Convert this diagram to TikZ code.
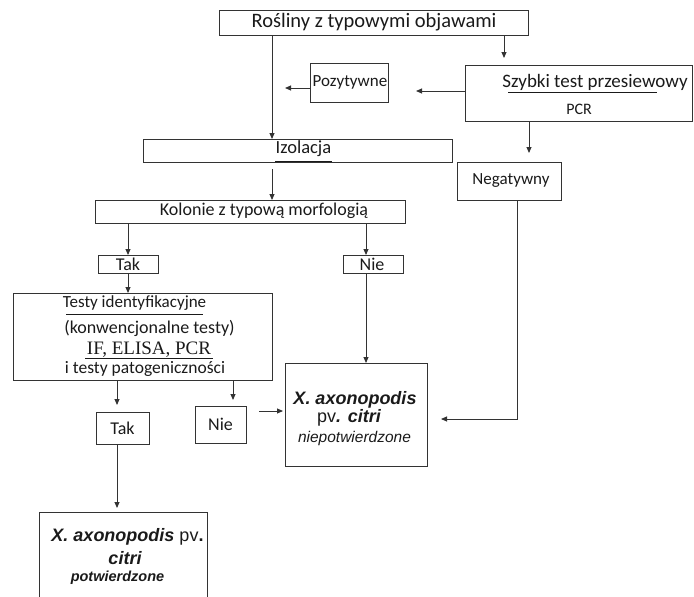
\documentclass[tikz,border=0pt]{standalone}
\usepackage{fontspec}
\setmainfont{Carlito}
\newfontfamily\tnr{Liberation Serif}
\newfontfamily\arial{Liberation Sans}
\usetikzlibrary{arrows.meta}
\definecolor{linec}{HTML}{333333}
\definecolor{txtc}{HTML}{1A1A1A}
\tikzset{
  boxnode/.style={draw=linec, line width=1pt, inner sep=0pt, anchor=north west, fill=none},
  lbl/.style={inner sep=0pt, text=txtc, anchor=center},
  arr/.style={draw=linec, line width=0.9pt, -{Triangle[length=6pt,width=5pt]}},
  ln/.style={draw=linec, line width=0.9pt},
  uline/.style={draw=txtc, line width=0.8pt}
}
\newcommand{\fs}[1]{\fontsize{#1}{#1}\selectfont}
\begin{document}
\begin{tikzpicture}[x=1pt,y=-1pt]
\useasboundingbox (0,0) rectangle (694,597);
% boxes
\node[boxnode, minimum width=309pt, minimum height=25pt] (top) at (219,10) {};
\node[boxnode, minimum width=227pt, minimum height=56pt] (szybki) at (465,65) {};
\node[boxnode, minimum width=78pt, minimum height=39pt] (poz) at (310,63) {};
\node[boxnode, minimum width=309pt, minimum height=23pt] (izol) at (143,139) {};
\node[boxnode, minimum width=104pt, minimum height=38pt] (neg) at (457,162) {};
\node[boxnode, minimum width=310pt, minimum height=23pt] (kol) at (95,200) {};
\node[boxnode, minimum width=60pt, minimum height=18pt] (tak1) at (98,255) {};
\node[boxnode, minimum width=60pt, minimum height=18pt] (nie1) at (343,255) {};
\node[boxnode, minimum width=259pt, minimum height=87pt] (testy) at (13,293) {};
\node[boxnode, minimum width=142pt, minimum height=103pt] (xnp) at (285,363) {};
\node[boxnode, minimum width=53pt, minimum height=32pt] (tak2) at (96,412) {};
\node[boxnode, minimum width=51pt, minimum height=37pt] (nie2) at (195,406) {};
\node[boxnode, minimum width=168pt, minimum height=110pt] (fin) at (39,512) {};
% texts
\node[lbl] (ttop) at (374,22) {\fs{20.5}Rośliny z typowymi objawami};
\node[lbl] (tszy) at (595,82) {\fs{19}Szybki test przesiewowy};
\node[lbl] (tpcr) at (579,109) {\fs{16}PCR};
\node[lbl] (tpoz) at (350,82) {\fs{17}Pozytywne};
\node[lbl] (tizo) at (303.5,149) {\fs{18.5}Izolacja};
\node[lbl] (tneg) at (511,181) {\fs{17}Negatywny};
\node[lbl] (tkol) at (264,211) {\fs{18}Kolonie z typową morfologią};
\node[lbl] (ttak1) at (128,264) {\fs{18}Tak};
\node[lbl] (tnie1) at (372,264) {\fs{18}Nie};
\node[lbl] (tt1) at (134.5,303) {\fs{17}Testy identyfikacyjne};
\node[lbl] (tt2) at (149.5,328) {\fs{18}(konwencjonalne testy)};
\node[lbl] (tt3) at (149,349.5) {\tnr\fs{19}IF, ELISA, PCR};
\node[lbl] (tt4) at (145,369) {\fs{17.5}i testy patogeniczności};
\node[lbl] (tx1) at (355,400) {\arial\fs{18}\bfseries\itshape X. axonopodis};
\node[lbl] (tx2) at (349,418) {\arial\fs{18}pv{\bfseries\itshape. citri}};
\node[lbl] (tx3) at (354.5,438) {\arial\fs{15.5}\itshape niepotwierdzone};
\node[lbl] (ttak2) at (122.5,428) {\fs{18}Tak};
\node[lbl] (tnie2) at (220.5,424.5) {\fs{18}Nie};
\node[lbl] (tf1) at (127.5,537) {\arial\fs{18}{\bfseries\itshape X. axonopodis} pv{\bfseries .}};
\node[lbl] (tf2) at (125,558) {\arial\fs{18}\bfseries\itshape citri};
\node[lbl] (tf3) at (117.5,578) {\arial\fs{14.5}\bfseries\itshape potwierdzone};
% underlines
\draw[uline] (508,92) -- (657,92);
\draw[uline] (275,161) -- (332,161);
\draw[uline] (66,314) -- (203,314);
\draw[uline] (85,358) -- (213,358);
% x guides
\coordinate (c1) at (272,0);
\coordinate (c2) at (504,0);
\coordinate (c3) at (529,0);
\coordinate (c4) at (128,0);
\coordinate (c5) at (366,0);
\coordinate (c6) at (117,0);
\coordinate (c7) at (233,0);
\coordinate (c8) at (517,419);
\coordinate (ys) at (0,91);
\coordinate (pa) at (285,88);
\coordinate (yn) at (0,411);
% connectors
\draw[arr] (top.south -| c1) -- (izol.north -| c1);
\draw[arr, shorten >=7pt] (top.south -| c2) -- (szybki.north -| c2);
\draw[arr, shorten >=27pt] (szybki.west |- ys) -- (poz.east |- ys);
\draw[arr] (poz.west |- pa) -- (pa);
\draw[arr, shorten >=9pt] (szybki.south -| c3) -- (neg.north -| c3);
\draw[arr, shorten <=6pt] (izol.south -| c1) -- (kol.north -| c1);
\draw[arr] (kol.south -| c4) -- (tak1.north -| c4);
\draw[arr] (kol.south -| c5) -- (nie1.north -| c5);
\draw[arr] (tak1.south -| c4) -- (testy.north -| c4);
\draw[arr] (nie1.south -| c5) -- (xnp.north -| c5);
\draw[arr, shorten >=7pt] (testy.south -| c6) -- (tak2.north -| c6);
\draw[arr, shorten >=6pt] (testy.south -| c7) -- (nie2.north -| c7);
\draw[arr, shorten <=12pt, shorten >=2pt] (nie2.east |- yn) -- (xnp.west |- yn);
\draw[arr, shorten >=13pt] (neg.south -| c8) -- (c8) -- (xnp.east |- c8);
\draw[arr, shorten >=4pt] (tak2.south -| c6) -- (fin.north -| c6);
\end{tikzpicture}
\end{document}
